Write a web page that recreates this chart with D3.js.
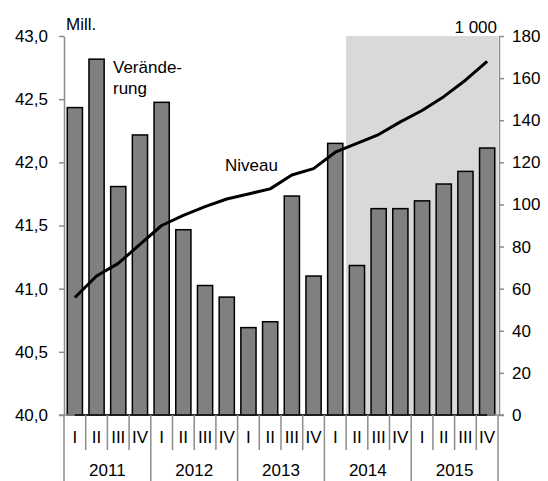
<!DOCTYPE html>
<html><head><meta charset="utf-8">
<script src="https://cdn.jsdelivr.net/npm/d3@7"></script>
<style>body{margin:0;background:#fff}svg{display:block;font-family:"Liberation Sans",Arial,sans-serif}</style>
</head><body>
<svg id="c" width="548" height="481"></svg>
<script>
const years = ["2011","2012","2013","2014","2015"];
const quarters = ["I","II","III","IV"];
const veraenderung = [146, 169, 108.5, 133, 148.5, 88, 61.5, 56, 41.5, 44.3, 104, 66, 129, 71, 98, 98, 101.7, 109.7, 115.7, 126.8];
const niveau = [40.93, 41.10, 41.20, 41.35, 41.50, 41.58, 41.65, 41.71, 41.75, 41.79, 41.90, 41.95, 42.08, 42.15, 42.22, 42.32, 42.41, 42.52, 42.65, 42.80];
const leftTicks = [40, 40.5, 41, 41.5, 42, 42.5, 43];
const rightTicks = [0, 20, 40, 60, 80, 100, 120, 140, 160, 180];
const shadeFrom = 13;

const svg = d3.select("#c");
const L = 64, R = 498, T = 36, B = 415;
const idx = d3.range(veraenderung.length);
const x = d3.scaleBand().domain(idx).range([L, R]).paddingInner(0.3).paddingOuter(0.15);
const step = x.step();
const bnd = i => L + i * step;
const cx = i => x(i) + x.bandwidth() / 2;
const yR = d3.scaleLinear().domain([0, 180]).range([B, T]);
const yL = d3.scaleLinear().domain([40, 43]).range([B, T]);
const gray = "#8c8c8c";
const fs = 17;

// shading
svg.append("rect").attr("x", bnd(shadeFrom)).attr("y", T)
  .attr("width", bnd(idx.length) - bnd(shadeFrom)).attr("height", B - T).attr("fill", "#d9d9d9");

// bars
svg.append("g").selectAll("rect").data(idx).join("rect")
  .attr("x", i => x(i)).attr("width", x.bandwidth())
  .attr("y", i => yR(veraenderung[i])).attr("height", i => B - yR(veraenderung[i]))
  .attr("fill", "#808080").attr("stroke", "#000").attr("stroke-width", 1.5);

// left axis
const ga = svg.append("g").attr("transform", `translate(${L},0)`)
  .call(d3.axisLeft(yL).tickValues(leftTicks).tickSize(5).tickSizeOuter(0)
    .tickFormat(d => d3.format(".1f")(d).replace(".", ",")));
ga.select(".domain").attr("stroke", gray).attr("stroke-width", 1.5);
ga.selectAll(".tick line").attr("stroke", gray).attr("stroke-width", 1.5);
ga.selectAll("text").attr("font-size", fs).attr("fill", "#000").attr("x", -16).attr("font-family", "Liberation Sans, Arial, sans-serif");

// right axis
const gr = svg.append("g").attr("transform", `translate(${R + 1},0)`)
  .call(d3.axisRight(yR).tickValues(rightTicks).tickSize(5).tickSizeOuter(0));
gr.select(".domain").attr("stroke", gray).attr("stroke-width", 1.5);
gr.selectAll(".tick line").attr("stroke", gray).attr("stroke-width", 1.5);
gr.selectAll("text").attr("font-size", fs).attr("fill", "#000").attr("x", 13).attr("font-family", "Liberation Sans, Arial, sans-serif");

// bottom axis
svg.append("line").attr("x1", L - 5).attr("x2", R + 6).attr("y1", B).attr("y2", B).attr("stroke", gray).attr("stroke-width", 1.5);
svg.append("line").attr("x1", cx(0)).attr("x2", cx(idx.length - 1)).attr("y1", B).attr("y2", B).attr("stroke", "#000").attr("stroke-width", 1.5);
const sep = svg.append("g");
d3.range(idx.length + 1).forEach(i => {
  const yearLine = i % 4 === 0;
  sep.append("line").attr("x1", bnd(i)).attr("x2", bnd(i)).attr("y1", B).attr("y2", yearLine ? 481 : 450)
    .attr("stroke", gray).attr("stroke-width", 1.5);
});
svg.append("g").selectAll("text").data(idx).join("text")
  .attr("x", cx).attr("y", 443).attr("text-anchor", "middle").attr("font-size", fs)
  .text(i => quarters[i % 4]);
svg.append("g").selectAll("text").data(years).join("text")
  .attr("x", (d, j) => (bnd(j * 4) + bnd(j * 4 + 4)) / 2).attr("y", 476).attr("text-anchor", "middle").attr("font-size", fs)
  .text(d => d);

// line
svg.append("path").datum(idx)
  .attr("d", d3.line().x(cx).y(i => yL(niveau[i])))
  .attr("fill", "none").attr("stroke", "#000").attr("stroke-width", 3).attr("stroke-linejoin", "round");

// labels
svg.append("text").attr("x", 66).attr("y", 30).attr("font-size", fs).text("Mill.");
svg.append("text").attr("x", 497).attr("y", 33).attr("font-size", fs).attr("text-anchor", "end").text("1 000");
svg.append("text").attr("x", 113).attr("y", 73).attr("font-size", fs).text("Verände-");
svg.append("text").attr("x", 113).attr("y", 94).attr("font-size", fs).text("rung");
svg.append("text").attr("x", 225).attr("y", 171).attr("font-size", fs).text("Niveau");
</script>
</body></html>
